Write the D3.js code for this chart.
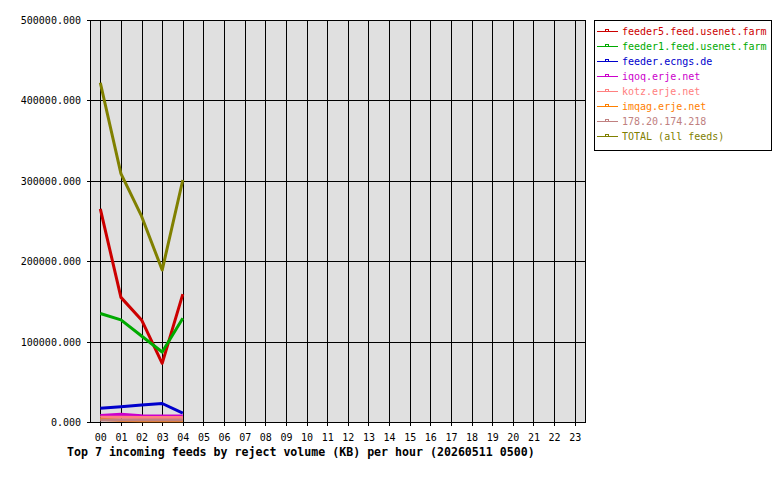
<!DOCTYPE html>
<html>
<head>
<meta charset="utf-8">
<script src="https://cdn.jsdelivr.net/npm/d3@7"></script>
<style>
  body { margin: 0; background: #fff; }
  text { font-family: "DejaVu Sans Mono", monospace; }
</style>
</head>
<body>
<div id="chart"></div>
<script>
// hours on the x axis
var hours = ["00","01","02","03","04","05","06","07","08","09","10","11",
             "12","13","14","15","16","17","18","19","20","21","22","23"];
var yTicks = [0, 100000, 200000, 300000, 400000, 500000];

// feed names, in legend order
var feedNames = ["feeder5.feed.usenet.farm", "feeder1.feed.usenet.farm", "feeder.ecngs.de",
                 "iqoq.erje.net", "kotz.erje.net", "imqag.erje.net", "178.20.174.218", "TOTAL (all feeds)"];
var feedColors = ["#cc0000", "#00aa00", "#0000cc", "#cc00cc", "#ff8080", "#ff8000", "#c08080", "#808000"];

// reject volume (KB) per hour, hours 00..04
var feeder5 = [265000, 155000, 127000, 73000, 159000];
var feeder1 = [135000, 127000, 107000, 87000, 129000];
var ecngs   = [17000, 19000, 21000, 23000, 11000];
var iqoq    = [8000, 9500, 7800, 7500, 7500];
var kotz    = [6000, 6000, 5500, 5500, 5500];
var imqag   = [3500, 2000, 1500, 1500, 1500];
var ip178   = [2500, 2500, 2500, 2500, 2500];
var total   = [422000, 309000, 256000, 189000, 301000];

var series = [feeder5, feeder1, ecngs, iqoq, kotz, imqag, ip178, total];

var W = 780, H = 480;
var plotL = 90, plotR = 585, plotT = 20, plotB = 422;

var svg = d3.select("#chart").append("svg")
  .attr("width", W).attr("height", H);

var x = d3.scaleBand().domain(hours).range([plotL, plotR]);
var y = d3.scaleLinear().domain([0, 500000]).range([plotB, plotT]);
function xc(h) { return x(h) + x.bandwidth() / 2; }

// plot background
svg.append("rect")
  .attr("x", plotL).attr("y", plotT)
  .attr("width", plotR - plotL).attr("height", plotB - plotT)
  .attr("fill", "#e0e0e0");

// vertical grid
svg.append("g").selectAll("line").data(hours).join("line")
  .attr("x1", d => Math.round(xc(d)) + 0.5).attr("x2", d => Math.round(xc(d)) + 0.5)
  .attr("y1", plotT).attr("y2", plotB + 4)
  .attr("stroke", "#000").attr("stroke-width", 1);

// horizontal grid
svg.append("g").selectAll("line").data(yTicks).join("line")
  .attr("x1", plotL - 3).attr("x2", plotR)
  .attr("y1", d => Math.round(y(d)) + 0.5).attr("y2", d => Math.round(y(d)) + 0.5)
  .attr("stroke", "#000").attr("stroke-width", 1);

// border
svg.append("rect")
  .attr("x", plotL + 0.5).attr("y", plotT + 0.5)
  .attr("width", plotR - plotL).attr("height", plotB - plotT)
  .attr("fill", "none").attr("stroke", "#000");

// y labels
svg.append("g").selectAll("text").data(yTicks).join("text")
  .attr("x", 81).attr("y", d => y(d) + 4)
  .attr("text-anchor", "end")
  .attr("font-size", "10px")
  .text(d => d3.format(".3f")(d));

// x labels
svg.append("g").selectAll("text").data(hours).join("text")
  .attr("x", d => xc(d) + 0.5).attr("y", 441)
  .attr("text-anchor", "middle")
  .attr("font-size", "10px")
  .text(d => d);

// title
svg.append("text")
  .attr("x", 67).attr("y", 456)
  .attr("font-size", "11.6px").attr("font-weight", "bold")
  .text("Top 7 incoming feeds by reject volume (KB) per hour (20260511 0500)");

// lines
var line = d3.line()
  .x((d, i) => xc(hours[i]))
  .y(d => y(d));

svg.append("g").selectAll("path").data(series).join("path")
  .attr("d", d => line(d))
  .attr("fill", "none")
  .attr("stroke", (d, i) => feedColors[i])
  .attr("stroke-width", 3)
  .attr("stroke-linejoin", "round");

// legend
var lg = svg.append("g");
lg.append("rect")
  .attr("x", 594.5).attr("y", 20.5)
  .attr("width", 177).attr("height", 130)
  .attr("fill", "#fff").attr("stroke", "#000");

var rows = lg.selectAll("g").data(feedNames).join("g")
  .attr("transform", (d, i) => "translate(0," + (31 + i * 15) + ")");
rows.append("line")
  .attr("x1", 597).attr("x2", 618).attr("y1", 0.5).attr("y2", 0.5)
  .attr("stroke", (d, i) => feedColors[i]);
rows.append("rect")
  .attr("x", 605.5).attr("y", -1.5).attr("width", 3).attr("height", 2)
  .attr("fill", "none")
  .attr("stroke", (d, i) => feedColors[i]).attr("stroke-width", 1);
rows.append("text")
  .attr("x", 622).attr("y", 4)
  .attr("font-size", "10px")
  .attr("fill", (d, i) => feedColors[i])
  .text(d => d);
</script>
</body>
</html>
